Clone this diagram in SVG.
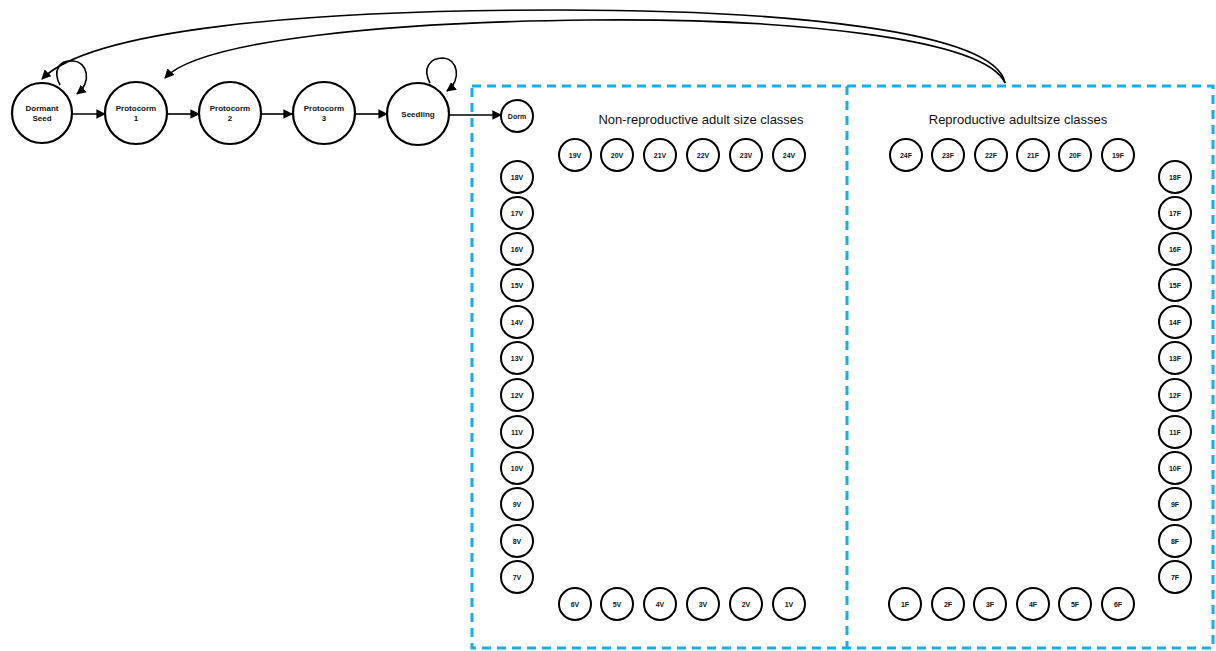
<svg xmlns="http://www.w3.org/2000/svg" width="1216" height="651" viewBox="0 0 1216 651">
  <style>
    .big { fill: #fff; stroke: #000; stroke-width: 2.2; }
    .sm { fill: #fff; stroke: #000; stroke-width: 2; }
    .lbl { font-family: "Liberation Sans", Arial, sans-serif; font-weight: bold; font-size: 8px; text-anchor: middle; fill: #111; }
    .slbl { font-family: "Liberation Sans", Arial, sans-serif; font-weight: bold; font-size: 7px; text-anchor: middle; fill: #111; }
    .title { font-family: "Liberation Sans", Arial, sans-serif; font-size: 13px; text-anchor: middle; fill: #111; }
    .edge { fill: none; stroke: #000; stroke-width: 1.6; }
    .box { fill: none; stroke: #14aee8; stroke-width: 3; stroke-dasharray: 9 6; }
  </style>
  <defs>
    <marker id="ah" viewBox="0 0 10 10" refX="9" refY="5" markerWidth="6" markerHeight="6" orient="auto" markerUnits="strokeWidth">
      <path d="M0,0 L10,5 L0,10 z" fill="#000"/>
    </marker>
  </defs>
  <rect width="1216" height="651" fill="#fff"/>

  <!-- dashed panels for the adult size classes -->
  <g id="panels">
    <rect class="box" x="472" y="86" width="741" height="562"/>
    <line class="box" x1="847" y1="86" x2="847" y2="648"/>
    <text class="title" x="701" y="124">Non-reproductive adult size classes</text>
    <text class="title" x="1018" y="124">Reproductive adultsize classes</text>
  </g>

  <!-- connectors -->
  <g id="connectors">
    <line class="edge" x1="72" y1="114" x2="105" y2="114" marker-end="url(#ah)"/>
    <line class="edge" x1="168" y1="114" x2="199" y2="114" marker-end="url(#ah)"/>
    <line class="edge" x1="262" y1="114" x2="292" y2="114" marker-end="url(#ah)"/>
    <line class="edge" x1="355" y1="114" x2="387" y2="114" marker-end="url(#ah)"/>
    <line class="edge" x1="450" y1="115" x2="501" y2="115" marker-end="url(#ah)"/>
    <!-- self loops -->
    <path class="edge" d="M60,85 C52,70 60,60 73,61 C88,62 92,82 77,94" marker-end="url(#ah)"/>
    <path class="edge" d="M430,83 C422,68 430,58 443,58 C458,59 462,80 447,91" marker-end="url(#ah)"/>
    <!-- return arcs from the reproductive classes -->
    <path class="edge" d="M1005,83 C995,30 780,10 560,10 C300,10 90,30 42,79" marker-end="url(#ah)"/>
    <path class="edge" d="M1005,83 C985,38 790,18 590,20 C390,22 200,40 165,78" marker-end="url(#ah)"/>
  </g>

  <!-- early life stages -->
  <g id="n-dormant-seed"><circle class="big" cx="42" cy="113" r="30"/><text class="lbl" x="42" y="111">Dormant</text><text class="lbl" x="42" y="121">Seed</text></g>
  <g id="n-protocorm-1"><circle class="big" cx="136" cy="113" r="31"/><text class="lbl" x="136" y="111">Protocorm</text><text class="lbl" x="136" y="121">1</text></g>
  <g id="n-protocorm-2"><circle class="big" cx="230" cy="113" r="31"/><text class="lbl" x="230" y="111">Protocorm</text><text class="lbl" x="230" y="121">2</text></g>
  <g id="n-protocorm-3"><circle class="big" cx="324" cy="113" r="31"/><text class="lbl" x="324" y="111">Protocorm</text><text class="lbl" x="324" y="121">3</text></g>
  <g id="n-seedling"><circle class="big" cx="418" cy="114" r="31"/><text class="lbl" x="418" y="117">Seedling</text></g>
  <g id="n-dorm"><circle class="sm" cx="517" cy="116" r="16"/><text class="slbl" x="517" y="119">Dorm</text></g>

  <!-- non-reproductive classes: top row -->
  <g id="n-19V"><circle class="sm" cx="575" cy="155" r="16"/><text class="slbl" x="575" y="158">19V</text></g>
  <g id="n-20V"><circle class="sm" cx="617" cy="155" r="16"/><text class="slbl" x="617" y="158">20V</text></g>
  <g id="n-21V"><circle class="sm" cx="660" cy="155" r="16"/><text class="slbl" x="660" y="158">21V</text></g>
  <g id="n-22V"><circle class="sm" cx="703" cy="155" r="16"/><text class="slbl" x="703" y="158">22V</text></g>
  <g id="n-23V"><circle class="sm" cx="746" cy="155" r="16"/><text class="slbl" x="746" y="158">23V</text></g>
  <g id="n-24V"><circle class="sm" cx="789" cy="155" r="16"/><text class="slbl" x="789" y="158">24V</text></g>

  <!-- non-reproductive classes: left column -->
  <g id="n-18V"><circle class="sm" cx="517" cy="177" r="16"/><text class="slbl" x="517" y="180">18V</text></g>
  <g id="n-17V"><circle class="sm" cx="517" cy="213" r="16"/><text class="slbl" x="517" y="216">17V</text></g>
  <g id="n-16V"><circle class="sm" cx="517" cy="249" r="16"/><text class="slbl" x="517" y="252">16V</text></g>
  <g id="n-15V"><circle class="sm" cx="517" cy="285" r="16"/><text class="slbl" x="517" y="288">15V</text></g>
  <g id="n-14V"><circle class="sm" cx="517" cy="322" r="16"/><text class="slbl" x="517" y="325">14V</text></g>
  <g id="n-13V"><circle class="sm" cx="517" cy="358" r="16"/><text class="slbl" x="517" y="361">13V</text></g>
  <g id="n-12V"><circle class="sm" cx="517" cy="395" r="16"/><text class="slbl" x="517" y="398">12V</text></g>
  <g id="n-11V"><circle class="sm" cx="517" cy="432" r="16"/><text class="slbl" x="517" y="435">11V</text></g>
  <g id="n-10V"><circle class="sm" cx="517" cy="468" r="16"/><text class="slbl" x="517" y="471">10V</text></g>
  <g id="n-9V"><circle class="sm" cx="517" cy="504" r="16"/><text class="slbl" x="517" y="507">9V</text></g>
  <g id="n-8V"><circle class="sm" cx="517" cy="541" r="16"/><text class="slbl" x="517" y="544">8V</text></g>
  <g id="n-7V"><circle class="sm" cx="517" cy="577" r="16"/><text class="slbl" x="517" y="580">7V</text></g>

  <!-- non-reproductive classes: bottom row -->
  <g id="n-6V"><circle class="sm" cx="575" cy="604" r="16"/><text class="slbl" x="575" y="607">6V</text></g>
  <g id="n-5V"><circle class="sm" cx="617" cy="604" r="16"/><text class="slbl" x="617" y="607">5V</text></g>
  <g id="n-4V"><circle class="sm" cx="660" cy="604" r="16"/><text class="slbl" x="660" y="607">4V</text></g>
  <g id="n-3V"><circle class="sm" cx="703" cy="604" r="16"/><text class="slbl" x="703" y="607">3V</text></g>
  <g id="n-2V"><circle class="sm" cx="746" cy="604" r="16"/><text class="slbl" x="746" y="607">2V</text></g>
  <g id="n-1V"><circle class="sm" cx="789" cy="604" r="16"/><text class="slbl" x="789" y="607">1V</text></g>

  <!-- reproductive classes: top row -->
  <g id="n-24F"><circle class="sm" cx="906" cy="155" r="16"/><text class="slbl" x="906" y="158">24F</text></g>
  <g id="n-23F"><circle class="sm" cx="948" cy="155" r="16"/><text class="slbl" x="948" y="158">23F</text></g>
  <g id="n-22F"><circle class="sm" cx="991" cy="155" r="16"/><text class="slbl" x="991" y="158">22F</text></g>
  <g id="n-21F"><circle class="sm" cx="1033" cy="155" r="16"/><text class="slbl" x="1033" y="158">21F</text></g>
  <g id="n-20F"><circle class="sm" cx="1075" cy="155" r="16"/><text class="slbl" x="1075" y="158">20F</text></g>
  <g id="n-19F"><circle class="sm" cx="1118" cy="155" r="16"/><text class="slbl" x="1118" y="158">19F</text></g>

  <!-- reproductive classes: right column -->
  <g id="n-18F"><circle class="sm" cx="1175" cy="177" r="16"/><text class="slbl" x="1175" y="180">18F</text></g>
  <g id="n-17F"><circle class="sm" cx="1175" cy="213" r="16"/><text class="slbl" x="1175" y="216">17F</text></g>
  <g id="n-16F"><circle class="sm" cx="1175" cy="249" r="16"/><text class="slbl" x="1175" y="252">16F</text></g>
  <g id="n-15F"><circle class="sm" cx="1175" cy="285" r="16"/><text class="slbl" x="1175" y="288">15F</text></g>
  <g id="n-14F"><circle class="sm" cx="1175" cy="322" r="16"/><text class="slbl" x="1175" y="325">14F</text></g>
  <g id="n-13F"><circle class="sm" cx="1175" cy="358" r="16"/><text class="slbl" x="1175" y="361">13F</text></g>
  <g id="n-12F"><circle class="sm" cx="1175" cy="395" r="16"/><text class="slbl" x="1175" y="398">12F</text></g>
  <g id="n-11F"><circle class="sm" cx="1175" cy="432" r="16"/><text class="slbl" x="1175" y="435">11F</text></g>
  <g id="n-10F"><circle class="sm" cx="1175" cy="468" r="16"/><text class="slbl" x="1175" y="471">10F</text></g>
  <g id="n-9F"><circle class="sm" cx="1175" cy="504" r="16"/><text class="slbl" x="1175" y="507">9F</text></g>
  <g id="n-8F"><circle class="sm" cx="1175" cy="541" r="16"/><text class="slbl" x="1175" y="544">8F</text></g>
  <g id="n-7F"><circle class="sm" cx="1175" cy="577" r="16"/><text class="slbl" x="1175" y="580">7F</text></g>

  <!-- reproductive classes: bottom row -->
  <g id="n-1F"><circle class="sm" cx="905" cy="604" r="16"/><text class="slbl" x="905" y="607">1F</text></g>
  <g id="n-2F"><circle class="sm" cx="948" cy="604" r="16"/><text class="slbl" x="948" y="607">2F</text></g>
  <g id="n-3F"><circle class="sm" cx="990" cy="604" r="16"/><text class="slbl" x="990" y="607">3F</text></g>
  <g id="n-4F"><circle class="sm" cx="1033" cy="604" r="16"/><text class="slbl" x="1033" y="607">4F</text></g>
  <g id="n-5F"><circle class="sm" cx="1075" cy="604" r="16"/><text class="slbl" x="1075" y="607">5F</text></g>
  <g id="n-6F"><circle class="sm" cx="1118" cy="604" r="16"/><text class="slbl" x="1118" y="607">6F</text></g>
</svg>
